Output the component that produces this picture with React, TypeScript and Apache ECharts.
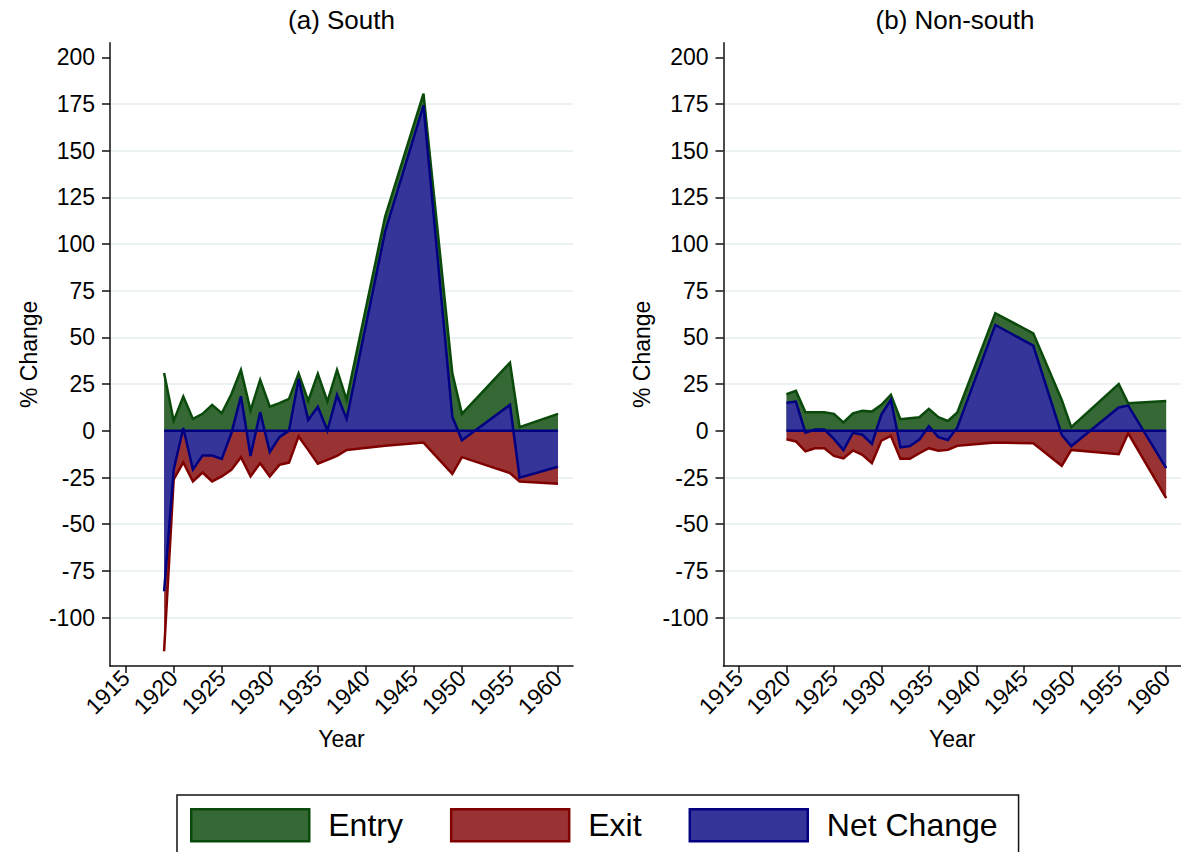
import React, { useEffect, useRef } from "react";
import * as echarts from "echarts";

const xTicks = [1915, 1920, 1925, 1930, 1935, 1940, 1945, 1950, 1955, 1960];
const yTicks = [-100, -75, -50, -25, 0, 25, 50, 75, 100, 125, 150, 175, 200];
const gridValues = [-100, -75, -50, -25, 25, 50, 75, 100, 125, 150, 175];

const southYears = [1919, 1920, 1921, 1922, 1923, 1924, 1925, 1926, 1927, 1928, 1929, 1930, 1931, 1932, 1933, 1934, 1935, 1936, 1937, 1938, 1942, 1946, 1949, 1950, 1955, 1956, 1960];
const southEntry = [31, 5.3, 18.4, 6.4, 9.1, 13.9, 9.4, 19.6, 32.6, 10.9, 27.3, 13, 14.8, 17.1, 30.8, 16, 30.5, 15.7, 32.6, 16.6, 114.6, 180.6, 30.8, 9.1, 36.5, 2, 9.1];
const southExit = [-118, -26, -16.9, -27.1, -22.3, -27.1, -24.4, -20.9, -14.1, -24.4, -17.3, -24.4, -18.2, -17, -3, -10.2, -17.6, -15.5, -13.4, -10.2, -8, -6.3, -23, -14.1, -22.6, -27.1, -28.3];
const southNet = [-86, -20.8, 1.5, -20.7, -13.2, -13.2, -15, -1.3, 18.5, -13.5, 10, -11.4, -3.4, 0.1, 27.8, 5.8, 12.9, 0.2, 19.2, 6.4, 106.6, 174.3, 7.5, -5, 13.9, -25.1, -19.2];

const nonSouthYears = [1920, 1921, 1922, 1923, 1924, 1925, 1926, 1927, 1928, 1929, 1930, 1931, 1932, 1933, 1934, 1935, 1936, 1937, 1938, 1942, 1946, 1949, 1950, 1955, 1956, 1960];
const nonSouthEntry = [19.6, 21.4, 10, 10, 10, 9.1, 4.5, 9.4, 10.7, 10.3, 13.9, 19.3, 6.2, 6.8, 7.3, 11.8, 7.3, 5.3, 9.8, 63, 52.2, 16.5, 2, 25, 14.8, 16];
const nonSouthExit = [-4.5, -5.7, -11, -9.3, -9.3, -13.4, -14.8, -10.5, -12.8, -17.3, -5.2, -2.7, -15, -15, -12, -9.3, -10.7, -10.2, -8, -6.3, -6.6, -18.7, -10.2, -12.5, -1.3, -36];
const nonSouthNet = [15.1, 15.7, -1, 0.7, 0.7, -4.3, -10.3, -1.1, -2.1, -7, 8.7, 16.6, -8.8, -8.2, -4.7, 2.5, -3.4, -4.9, 1.8, 56.7, 45.6, -2.2, -8.2, 12.5, 13.5, -20];

const panelTitles = ["(a) South", "(b) Non-south"];
const seriesNames = ["Entry", "Exit", "Net Change"];

const FONT = "'Liberation Sans', Arial, Helvetica, sans-serif";
const FILL = ["#366836", "#993333", "#353599"];
const EDGE = ["#0a4a0a", "#800000", "#000080"];
const GRIDCOL = "#eaf2f3";

const X_MIN = 1913.37;
const X_MAX = 1961.56;
const Y_MIN = -125.9;
const Y_MAX = 207.8;

function pairs(xs: number[], ys: number[]) {
  return xs.map((x, i) => [x, ys[i]]);
}

export default function App() {
  const ref = useRef<HTMLDivElement>(null);

  useEffect(() => {
    if (!ref.current) return;
    const chart = echarts.init(ref.current, null, { renderer: "svg" });

    const grids = [
      { left: 110, top: 42.7, width: 463, height: 623.3 },
      { left: 723.5, top: 42.7, width: 463, height: 623.3 },
    ];

    const xAxes = grids.map((_, gi) => ({
      type: "value",
      gridIndex: gi,
      min: X_MIN,
      max: X_MAX,
      axisLine: { show: true, onZero: false, lineStyle: { color: "#111", width: 1.5 } },
      axisTick: { show: true, length: 7, customValues: xTicks, lineStyle: { color: "#111", width: 1.5 } },
      axisLabel: {
        customValues: xTicks,
        rotate: 45,
        fontSize: 23,
        color: "#000",
        margin: 8,
        fontFamily: FONT,
        formatter: (v: number) => String(v),
      },
      splitLine: { show: false },
      name: "Year",
      nameLocation: "middle",
      nameGap: 61,
      nameTextStyle: { fontSize: 23, color: "#000", fontFamily: FONT },
    }));

    const yAxes = grids.map((_, gi) => ({
      type: "value",
      gridIndex: gi,
      min: Y_MIN,
      max: Y_MAX,
      axisLine: { show: true, onZero: false, lineStyle: { color: "#111", width: 1.5 } },
      axisTick: { show: true, length: 8, customValues: yTicks, lineStyle: { color: "#111", width: 1.5 } },
      axisLabel: {
        customValues: yTicks,
        fontSize: 23,
        color: "#000",
        margin: 15,
        fontFamily: FONT,
        formatter: (v: number) => String(v),
      },
      splitLine: { show: false },
      name: "% Change",
      nameLocation: "middle",
      nameGap: 70,
      nameRotate: 90,
      nameTextStyle: { fontSize: 23, color: "#000", fontFamily: FONT },
    }));

    const panels = [
      { years: southYears, vals: [southEntry, southExit, southNet] },
      { years: nonSouthYears, vals: [nonSouthEntry, nonSouthExit, nonSouthNet] },
    ];

    const series: any[] = [];
    panels.forEach((p, gi) => {
      series.push({
        type: "line",
        xAxisIndex: gi,
        yAxisIndex: gi,
        data: [],
        silent: true,
        z: 0,
        markLine: {
          silent: true,
          z: 0,
          symbol: ["none", "none"],
          label: { show: false },
          lineStyle: { color: GRIDCOL, width: 1.8, type: "solid" },
          data: gridValues.map((v) => ({ yAxis: v })),
          animation: false,
        },
      });
      p.vals.forEach((vals, si) => {
        series.push({
          type: "line",
          name: seriesNames[si],
          xAxisIndex: gi,
          yAxisIndex: gi,
          data: pairs(p.years, vals),
          symbol: "none",
          showSymbol: false,
          silent: true,
          z: 3 + si,
          itemStyle: { color: FILL[si] },
          lineStyle: { color: EDGE[si], width: 2.5, join: "miter" },
          areaStyle: { color: FILL[si], opacity: 1, origin: "auto" },
        });
      });
      series.push({
        type: "line",
        xAxisIndex: gi,
        yAxisIndex: gi,
        data: [
          [p.years[0], 0],
          [p.years[p.years.length - 1], 0],
        ],
        symbol: "none",
        silent: true,
        z: 7,
        lineStyle: { color: EDGE[2], width: 2.5 },
      });
    });

    const option: any = {
      animation: false,
      textStyle: { fontFamily: FONT },
      grid: grids,
      xAxis: xAxes,
      yAxis: yAxes,
      series,
      legend: {
        left: 177,
        top: 795,
        orient: "horizontal",
        padding: [13, 21, 13, 13],
        itemGap: 47,
        itemWidth: 118,
        itemHeight: 32,
        borderColor: "#111",
        borderWidth: 1.5,
        icon: "rect",
        selectedMode: false,
        textStyle: { fontSize: 32, color: "#000", fontFamily: FONT, padding: [0, 0, 0, 14] },
        data: seriesNames.map((n, i) => ({
          name: n,
          icon: "rect",
          itemStyle: { color: FILL[i], borderColor: EDGE[i], borderWidth: 2.5 },
        })),
      },
      graphic: panelTitles.map((t, i) => ({
        type: "text",
        x: grids[i].left + grids[i].width / 2,
        y: 20,
        style: {
          text: t,
          textAlign: "center",
          textVerticalAlign: "middle",
          fontSize: 26,
          fontFamily: FONT,
          fill: "#000",
        },
      })),
    };

    chart.setOption(option);
    return () => chart.dispose();
  }, []);

  return (
    <div style={{ position: "absolute", left: 0, top: 0, width: 1181, height: 852, overflow: "hidden", background: "#fff" }}>
      <div ref={ref} style={{ width: 1181, height: 852 }} />
    </div>
  );
}
